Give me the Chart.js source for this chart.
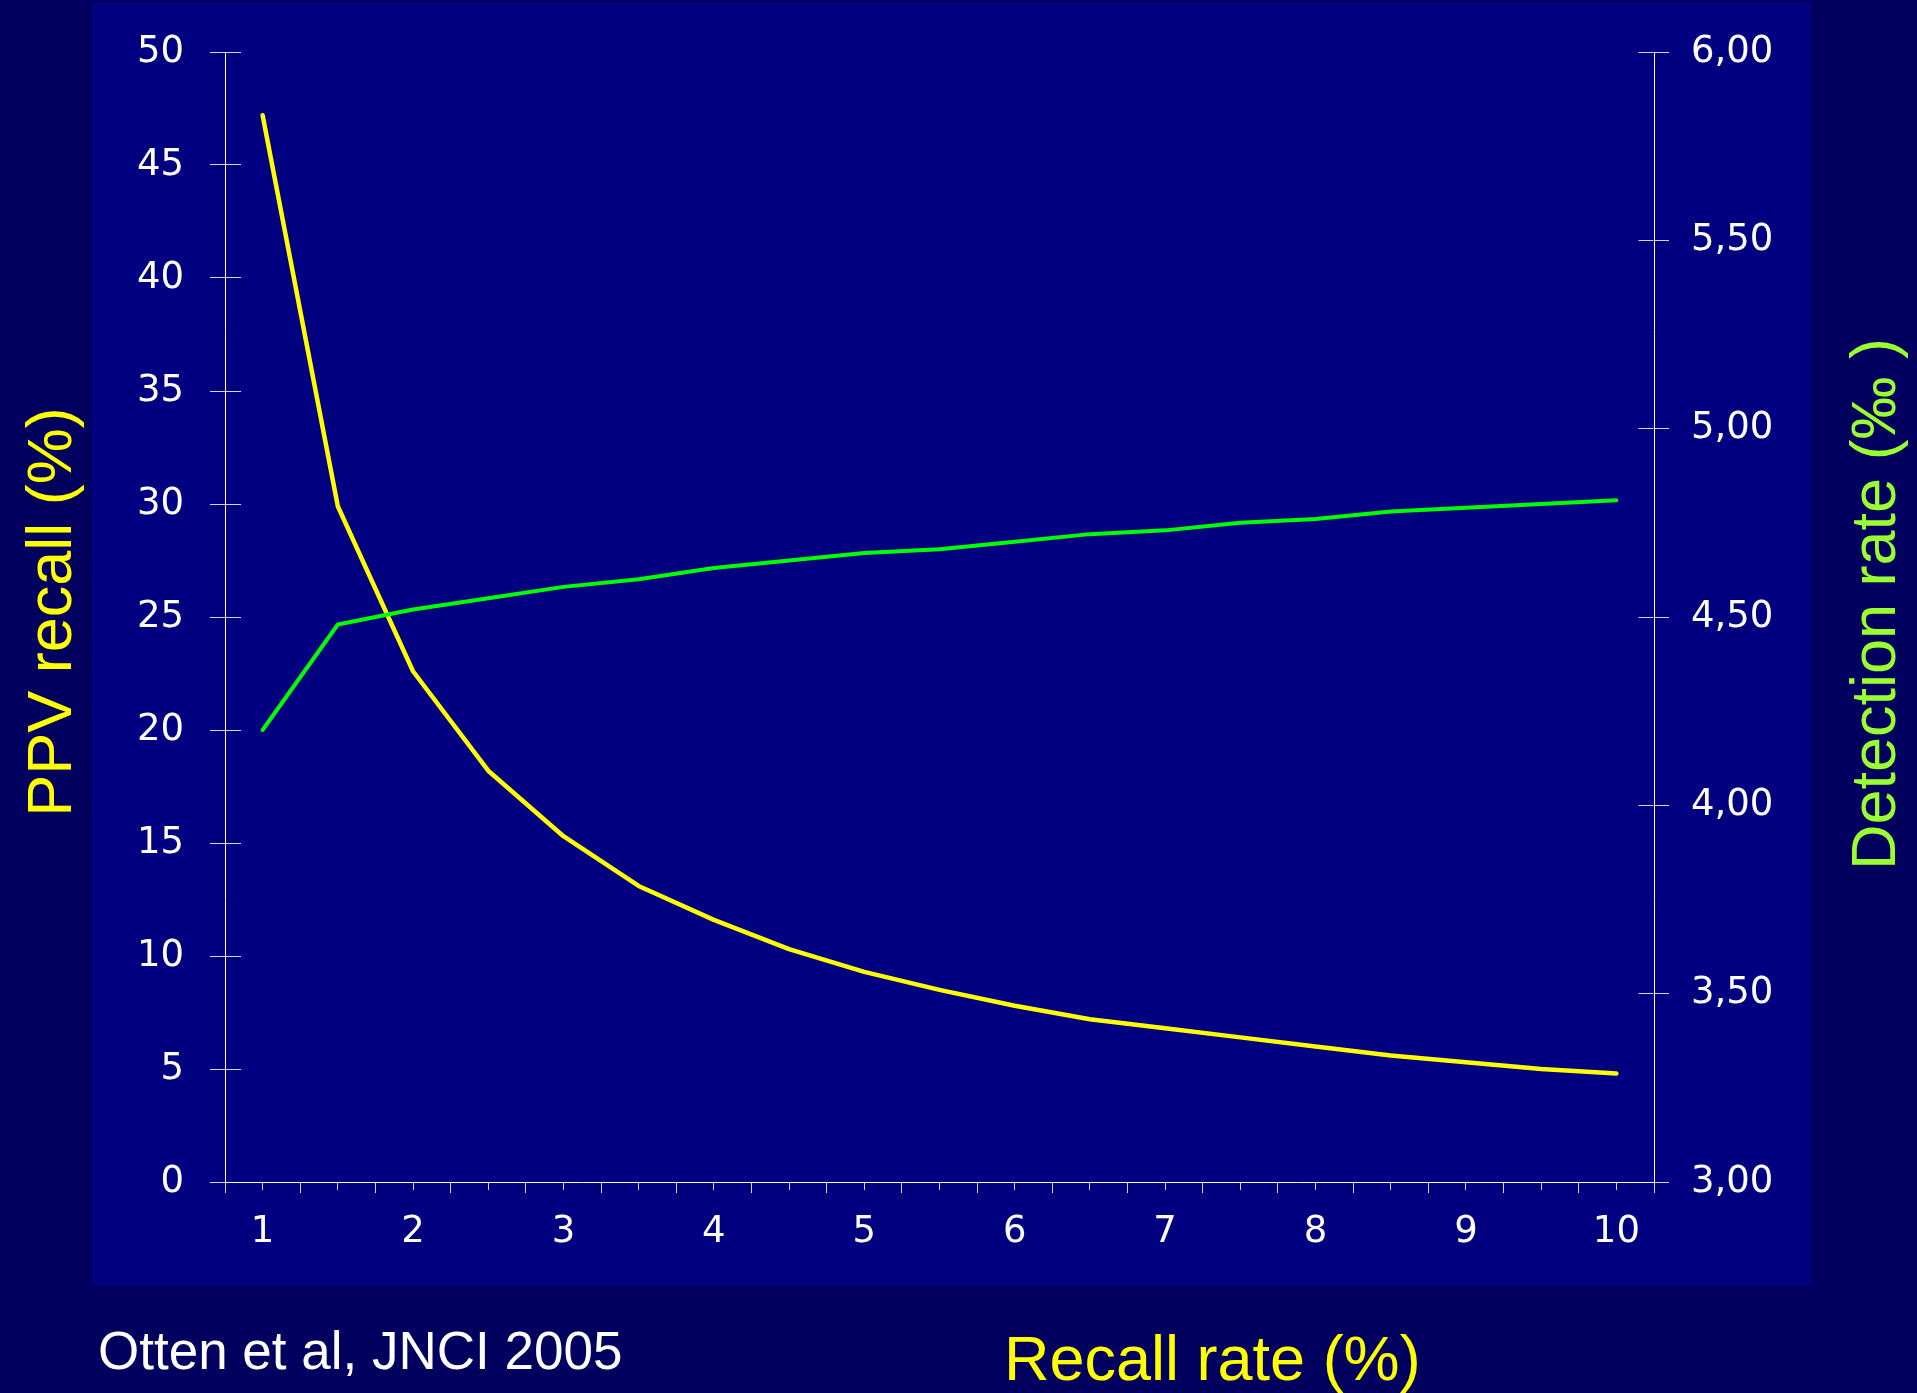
<!DOCTYPE html>
<html>
<head>
<meta charset="utf-8">
<script src="https://cdn.jsdelivr.net/npm/chart.js@4.4.0/dist/chart.umd.min.js"></script>
<style>
  html, body { margin: 0; padding: 0; background: #02005f; }
  #panel { position: absolute; left: 92px; top: 3px; width: 1719px; height: 1282px; background: #000080; }
  #myChart { position: absolute; left: 0; top: 0; }
</style>
</head>
<body>
  <div id="panel"></div>
  <canvas id="myChart" width="1917" height="1393"></canvas>
  <script>
    // recall rate (%) on the x axis
    var recallRate = [1, 1.5, 2, 2.5, 3, 3.5, 4, 4.5, 5, 5.5, 6, 6.5, 7, 7.5, 8, 8.5, 9, 9.5, 10];
    // PPV of recall (%), left axis
    var ppvRecall = [47.2, 29.9, 22.6, 18.2, 15.3, 13.1, 11.6, 10.3, 9.3, 8.5, 7.8, 7.2, 6.8, 6.4, 6.0, 5.6, 5.3, 5.0, 4.8];
    // detection rate (per mille), right axis
    var detectionRate = [4.20, 4.48, 4.52, 4.55, 4.58, 4.60, 4.63, 4.65, 4.67, 4.68, 4.70, 4.72, 4.73, 4.75, 4.76, 4.78, 4.79, 4.80, 4.81];

    var leftTitle = "PPV recall (%)";
    var rightTitle = "Detection rate (\u2030 )";
    var xTitle = "Recall rate (%)";
    var source = "Otten et al, JNCI 2005";

    // the slide's tick labels are wide, so a wider face is used for them
    var tickFont = { family: "'DejaVu Sans', 'Liberation Sans', sans-serif", size: 37 };
    var tickCol = "#d4d4ec";

    function pairs(ys) {
      var out = [];
      for (var i = 0; i < recallRate.length; i++) out.push({ x: recallRate[i], y: ys[i] });
      return out;
    }

    // titles and source note, as on the slide
    var slideText = {
      id: "slideText",
      afterDraw: function(chart) {
        var c = chart.ctx;
        c.save();
        c.textBaseline = "alphabetic";
        c.font = "63px 'Liberation Sans', Arial, sans-serif";

        c.save();
        c.translate(71, 612);
        c.rotate(-Math.PI / 2);
        c.textAlign = "center";
        c.fillStyle = "#ffff00";
        c.fillText(leftTitle, 0, 0);
        c.restore();

        c.save();
        c.translate(1895, 604);
        c.rotate(-Math.PI / 2);
        c.textAlign = "center";
        c.fillStyle = "#99ff33";
        c.fillText(rightTitle, 0, 0);
        c.restore();

        c.textAlign = "left";
        c.fillStyle = "#ffff00";
        c.fillText(xTitle, 1004, 1380);

        c.font = "53px 'Liberation Sans', Arial, sans-serif";
        c.fillStyle = "#ffffff";
        c.fillText(source, 98, 1369);
        c.restore();
      }
    };

    var ctx = document.getElementById("myChart").getContext("2d");
    var chart = new Chart(ctx, {
      type: "line",
      data: {
        datasets: [{
          label: "PPV recall",
          data: pairs(ppvRecall),
          borderColor: "#ffff00",
          borderWidth: 4.5,
          yAxisID: "y",
          order: 1
        }, {
          label: "Detection rate",
          data: pairs(detectionRate),
          borderColor: "#00ff00",
          borderWidth: 4,
          yAxisID: "y2",
          order: 0
        }]
      },
      options: {
        responsive: false,
        animation: false,
        devicePixelRatio: 1,
        layout: { padding: { left: 0, right: 0, top: 52, bottom: 111 } },
        elements: {
          point: { radius: 0 },
          line: { tension: 0, borderCapStyle: "round", borderJoinStyle: "round", fill: false }
        },
        plugins: { legend: { display: false }, tooltip: { enabled: false } },
        scales: {
          x: {
            type: "linear",
            min: 0.75,
            max: 10.25,
            afterFit: function(s) { s.height = 100; },
            afterBuildTicks: function(s) {
              var t = [];
              for (var i = 0; i < recallRate.length; i++) {
                t.push({ value: recallRate[i] - 0.25 });
                t.push({ value: recallRate[i] });
              }
              t.push({ value: recallRate[recallRate.length - 1] + 0.25 });
              s.ticks = t;
            },
            ticks: {
              autoSkip: false,
              maxRotation: 0,
              padding: 17,
              color: "#ffffff",
              font: tickFont,
              callback: function(v) { return Number.isInteger(v) ? String(v) : ""; }
            },
            border: { display: true, color: "#ffffff", width: 1 },
            grid: {
              drawOnChartArea: false,
              drawTicks: true,
              tickLength: 11,
              tickColor: tickCol,
              tickWidth: 1,
              tickBorderDash: function(c) {
                if (!c.tick) return [];
                return Number.isInteger(c.tick.value * 2) ? [7, 100] : [];
              }
            }
          },
          y: {
            position: "left",
            min: 0,
            max: 50,
            afterFit: function(s) { s.width = 225; },
            ticks: { stepSize: 5, padding: 26, color: "#ffffff", font: tickFont },
            border: { display: true, color: "#ffffff", width: 1, dash: [15, 5000] },
            grid: { drawOnChartArea: true, color: tickCol, lineWidth: 1, tickLength: 15, tickColor: tickCol }
          },
          y2: {
            position: "right",
            min: 3,
            max: 6,
            afterFit: function(s) { s.width = 263; },
            ticks: {
              stepSize: 0.5,
              padding: 22,
              color: "#ffffff",
              font: tickFont,
              callback: function(v) { return v.toFixed(2).replace(".", ","); }
            },
            border: {
              display: true,
              color: "#ffffff",
              width: 1,
              dash: function(c) {
                var a = c.chart.chartArea;
                if (!a) return [];
                return [0, a.right - a.left - 15.5, 15, 5000];
              }
            },
            grid: { drawOnChartArea: true, color: tickCol, lineWidth: 1, tickLength: 15, tickColor: tickCol }
          }
        }
      },
      plugins: [slideText]
    });
  </script>
</body>
</html>
